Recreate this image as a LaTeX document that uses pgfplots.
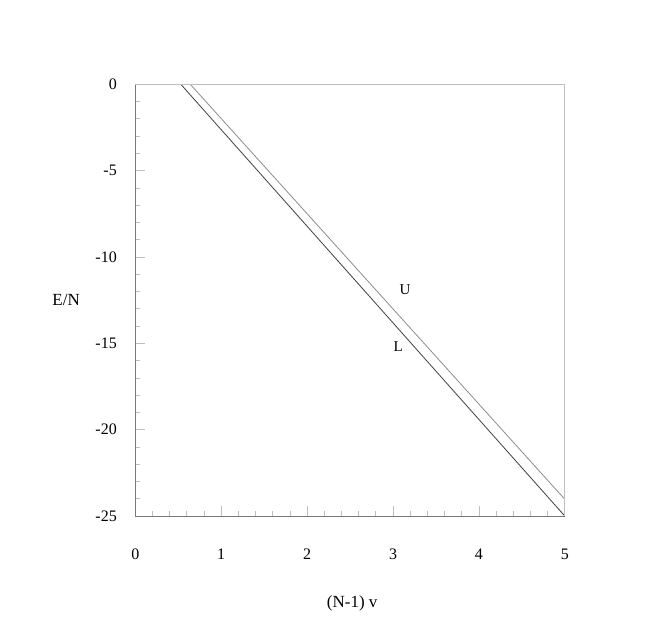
\documentclass[border=0pt]{standalone}
\usepackage{fontspec}
\setmainfont{Liberation Serif}
\usepackage{pgfplots}
\pgfplotsset{compat=1.18}

\definecolor{frameD}{RGB}{120,120,120}
\definecolor{frameL}{RGB}{190,190,190}

\begin{document}
\begin{tikzpicture}
\begin{axis}[
  x=85.9pt, y=17.27pt,
  xmin=0, xmax=5, ymin=-25, ymax=0,
  clip=false,
  axis x line*=bottom, axis y line*=left,
  axis line style={frameD, line width=0.8pt, -},
  tick align=inside,
  xtick={0,1,2,3,4,5}, ytick={-25,-20,-15,-10,-5,0},
  minor x tick num=4, minor y tick num=4,
  major tick length=10pt, minor tick length=5pt,
  every tick/.style={frameL, line width=0.7pt},
  /pgf/number format/assume math mode=true,
  ticklabel style={font=\fontsize{16}{18}\selectfont},
  xticklabel style={yshift=-29pt},
  yticklabel style={xshift=-15pt},
  xlabel={(N-1) v}, ylabel={E/N},
  xlabel style={at={(rel axis cs:0.505,-0.2015)}, anchor=center, font=\fontsize{17}{20}\selectfont},
  ylabel style={at={(rel axis cs:-0.161,0.5)}, anchor=center, rotate=-90, font=\fontsize{17}{20}\selectfont},
]
% lower branch L
\addplot[black!75, line width=0.8pt] coordinates {(0.53,0) (5,-25)};
% upper branch U
\addplot[black!45, line width=0.8pt] coordinates {(0.64,0) (5,-24.03)};
\node[font=\fontsize{15}{18}\selectfont] at (axis cs:3.14,-11.9) {U};
\node[font=\fontsize{15}{18}\selectfont] at (axis cs:3.06,-15.2) {L};
\draw[frameL, line width=0.8pt] (rel axis cs:0,1) -- (rel axis cs:1,1) -- (rel axis cs:1,0);
\coordinate (bl) at (axis cs:-1.575,-31.66);
\coordinate (tr) at (axis cs:6.038,4.88);
\end{axis}
\path (bl) rectangle (tr);
\end{tikzpicture}
\end{document}
